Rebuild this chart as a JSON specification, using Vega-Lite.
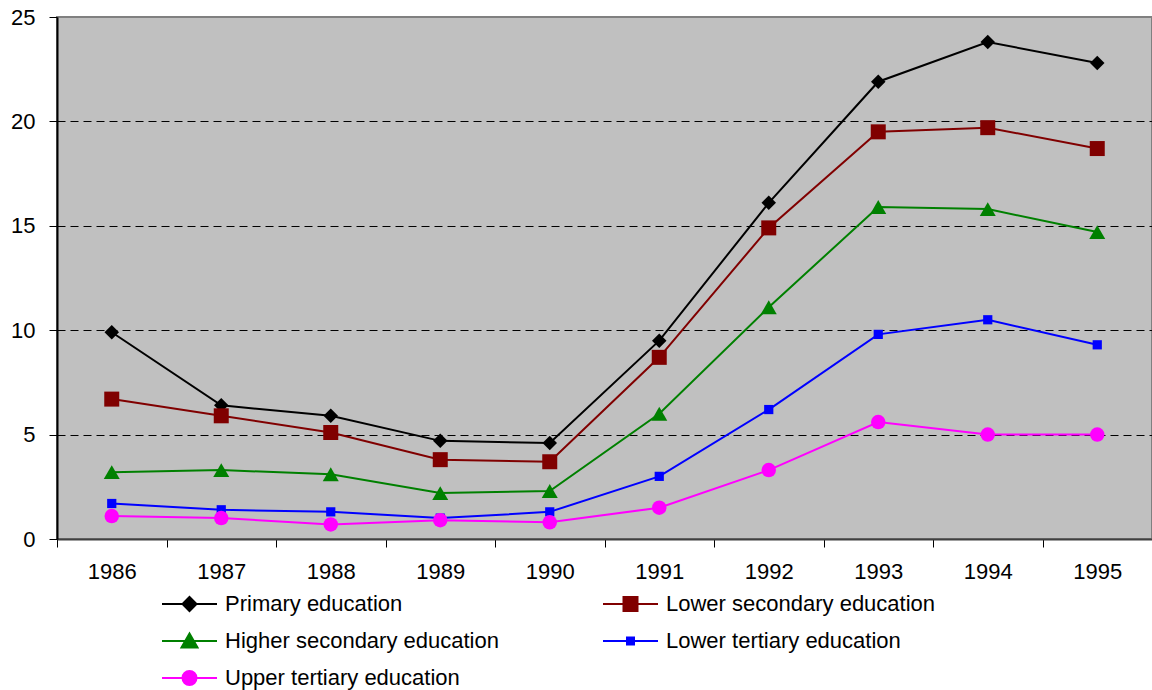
{
  "$schema": "https://vega.github.io/schema/vega-lite/v6.json",
  "width": 1095,
  "height": 522,
  "autosize": {"type": "none"},
  "padding": {"left": 57, "top": 17, "right": 0, "bottom": 151},
  "background": "white",
  "config": {
    "view": {"fill": "#C0C0C0", "stroke": "#808080", "strokeWidth": 2},
    "font": "Liberation Sans",
    "axis": {"labelFont": "Liberation Sans", "labelColor": "black", "title": null}
  },
  "data": {
    "values": [
      {"year": "1986", "series": "Primary education", "value": 9.9},
      {"year": "1987", "series": "Primary education", "value": 6.4},
      {"year": "1988", "series": "Primary education", "value": 5.9},
      {"year": "1989", "series": "Primary education", "value": 4.7},
      {"year": "1990", "series": "Primary education", "value": 4.6},
      {"year": "1991", "series": "Primary education", "value": 9.5},
      {"year": "1992", "series": "Primary education", "value": 16.1},
      {"year": "1993", "series": "Primary education", "value": 21.9},
      {"year": "1994", "series": "Primary education", "value": 23.8},
      {"year": "1995", "series": "Primary education", "value": 22.8},
      {"year": "1986", "series": "Lower secondary education", "value": 6.7},
      {"year": "1987", "series": "Lower secondary education", "value": 5.9},
      {"year": "1988", "series": "Lower secondary education", "value": 5.1},
      {"year": "1989", "series": "Lower secondary education", "value": 3.8},
      {"year": "1990", "series": "Lower secondary education", "value": 3.7},
      {"year": "1991", "series": "Lower secondary education", "value": 8.7},
      {"year": "1992", "series": "Lower secondary education", "value": 14.9},
      {"year": "1993", "series": "Lower secondary education", "value": 19.5},
      {"year": "1994", "series": "Lower secondary education", "value": 19.7},
      {"year": "1995", "series": "Lower secondary education", "value": 18.7},
      {"year": "1986", "series": "Higher secondary education", "value": 3.2},
      {"year": "1987", "series": "Higher secondary education", "value": 3.3},
      {"year": "1988", "series": "Higher secondary education", "value": 3.1},
      {"year": "1989", "series": "Higher secondary education", "value": 2.2},
      {"year": "1990", "series": "Higher secondary education", "value": 2.3},
      {"year": "1991", "series": "Higher secondary education", "value": 6.0},
      {"year": "1992", "series": "Higher secondary education", "value": 11.1},
      {"year": "1993", "series": "Higher secondary education", "value": 15.9},
      {"year": "1994", "series": "Higher secondary education", "value": 15.8},
      {"year": "1995", "series": "Higher secondary education", "value": 14.7},
      {"year": "1986", "series": "Lower tertiary education", "value": 1.7},
      {"year": "1987", "series": "Lower tertiary education", "value": 1.4},
      {"year": "1988", "series": "Lower tertiary education", "value": 1.3},
      {"year": "1989", "series": "Lower tertiary education", "value": 1.0},
      {"year": "1990", "series": "Lower tertiary education", "value": 1.3},
      {"year": "1991", "series": "Lower tertiary education", "value": 3.0},
      {"year": "1992", "series": "Lower tertiary education", "value": 6.2},
      {"year": "1993", "series": "Lower tertiary education", "value": 9.8},
      {"year": "1994", "series": "Lower tertiary education", "value": 10.5},
      {"year": "1995", "series": "Lower tertiary education", "value": 9.3},
      {"year": "1986", "series": "Upper tertiary education", "value": 1.1},
      {"year": "1987", "series": "Upper tertiary education", "value": 1.0},
      {"year": "1988", "series": "Upper tertiary education", "value": 0.7},
      {"year": "1989", "series": "Upper tertiary education", "value": 0.9},
      {"year": "1990", "series": "Upper tertiary education", "value": 0.8},
      {"year": "1991", "series": "Upper tertiary education", "value": 1.5},
      {"year": "1992", "series": "Upper tertiary education", "value": 3.3},
      {"year": "1993", "series": "Upper tertiary education", "value": 5.6},
      {"year": "1994", "series": "Upper tertiary education", "value": 5.0},
      {"year": "1995", "series": "Upper tertiary education", "value": 5.0}
    ]
  },
  "encoding": {
    "x": {
      "field": "year",
      "type": "ordinal",
      "scale": {"paddingInner": 0, "paddingOuter": 0},
      "axis": {
        "labelAngle": 0,
        "labelFontSize": 22,
        "labelPadding": 14,
        "tickBand": "extent",
        "tickSize": 8,
        "tickColor": "black",
        "domainColor": "#404040",
        "domainWidth": 2,
        "grid": false
      }
    },
    "y": {
      "field": "value",
      "type": "quantitative",
      "scale": {"domain": [0, 25], "nice": false},
      "axis": {
        "values": [0, 5, 10, 15, 20, 25],
        "labelFontSize": 22,
        "labelPadding": 14,
        "tickSize": 8,
        "tickColor": "black",
        "domainColor": "black",
        "domainWidth": 2,
        "grid": true,
        "gridColor": "black",
        "gridDash": [8, 5],
        "gridWidth": 1,
        "gridOpacity": {"condition": {"test": "datum.value == 0 || datum.value == 25", "value": 0}, "value": 1}
      }
    },
    "color": {
      "field": "series",
      "type": "nominal",
      "scale": {
        "domain": ["Primary education", "Lower secondary education", "Higher secondary education", "Lower tertiary education", "Upper tertiary education"],
        "range": ["#000000", "#800000", "#008000", "#0000FF", "#FF00FF"]
      },
      "legend": {
        "title": null,
        "orient": "none",
        "legendX": 105,
        "legendY": 576,
        "columns": 2,
        "direction": "horizontal",
        "columnPadding": 100,
        "rowPadding": 14,
        "labelFont": "Liberation Sans",
        "labelFontSize": 22,
        "labelColor": "black",
        "labelLimit": 0,
        "labelOffset": 41,
        "symbolSize": 400,
        "symbolStrokeWidth": 2,
        "symbolOpacity": 1,
        "encode": {
          "symbols": {
            "update": {
              "shape": {"signal": "datum.value === 'Primary education' ? 'M-1.1,0H4.4M1.65,-0.7L2.35,0L1.65,0.7L0.95,0Z' : datum.value === 'Lower secondary education' ? 'M-1.1,0H4.4M0.95,-0.7H2.35V0.7H0.95Z' : datum.value === 'Higher secondary education' ? 'M-1.1,0H4.4M1.65,-0.75L2.45,0.65L0.85,0.65Z' : datum.value === 'Lower tertiary education' ? 'M-1.1,0H4.4M1.3,-0.35H2.0V0.35H1.3Z' : 'M-1.1,0H4.4M0.95,0A0.7,0.7,0,1,1,2.35,0A0.7,0.7,0,1,1,0.95,0Z'"},
              "size": {"value": 400},
              "strokeWidth": {"value": 2},
              "opacity": {"value": 1}
            }
          }
        }
      }
    }
  },
  "layer": [
    {
      "mark": {"type": "line", "strokeWidth": 2}
    },
    {
      "transform": [{"filter": "datum.series === 'Primary education'"}],
      "mark": {"type": "point", "filled": true, "opacity": 1, "shape": "diamond", "size": 210}
    },
    {
      "transform": [{"filter": "datum.series === 'Lower secondary education'"}],
      "mark": {"type": "point", "filled": true, "opacity": 1, "shape": "square", "size": 225}
    },
    {
      "transform": [{"filter": "datum.series === 'Higher secondary education'"}],
      "mark": {"type": "point", "filled": true, "opacity": 1, "shape": "triangle-up", "size": 256}
    },
    {
      "transform": [{"filter": "datum.series === 'Lower tertiary education'"}],
      "mark": {"type": "point", "filled": true, "opacity": 1, "shape": "square", "size": 85}
    },
    {
      "transform": [{"filter": "datum.series === 'Upper tertiary education'"}],
      "mark": {"type": "point", "filled": true, "opacity": 1, "shape": "circle", "size": 210}
    }
  ]
}
